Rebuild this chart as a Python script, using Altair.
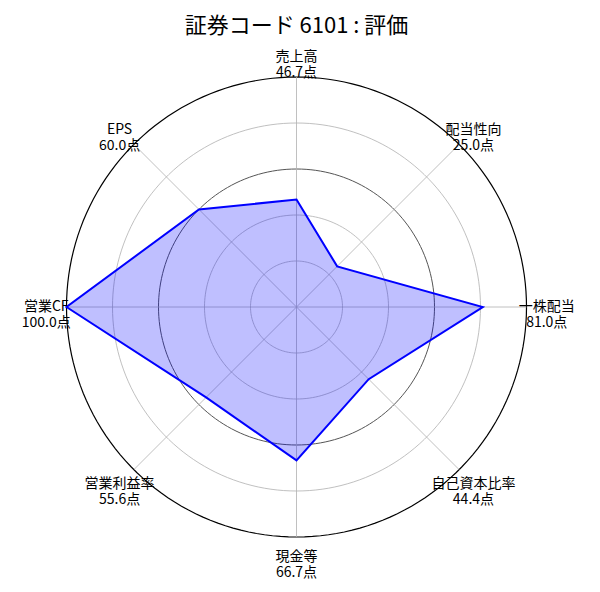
import altair as alt
import pandas as pd

labels = ["売上高", "配当性向", "一株配当", "自己資本比率", "現金等", "営業利益率", "営業CF", "EPS"]
scores = [46.7, 25.0, 81.0, 44.4, 66.7, 55.6, 100.0, 60.0]
grid_levels = [20, 40, 60, 80, 100]
grid_colors = ["#b0b0b0", "#b0b0b0", "#555555", "#b0b0b0", "#000000"]
grid_widths = [0.8, 0.8, 1.0, 0.8, 1.2]
title_text = "証券コード 6101 : 評価"

FONT = "Noto Sans CJK JP"
N = len(labels)

df = pd.DataFrame({
    "idx": list(range(N)),
    "label": labels,
    "score": scores,
    "txt": [f"{l}\n{s:.1f}点" for l, s in zip(labels, scores)],
})

xs = alt.Scale(domain=[-100, 100], nice=False, zero=False)
ys = alt.Scale(domain=[-100, 100], nice=False, zero=False)

base = alt.Chart(df).transform_calculate(
    ang=f"datum.idx * 2 * PI / {N}"
).transform_calculate(
    px="datum.score * sin(datum.ang)",
    py="datum.score * cos(datum.ang)",
    zx="0",
    ex="100 * sin(datum.ang)",
    ey="100 * cos(datum.ang)",
    lx="108.8 * sin(datum.ang)",
    ly="108.8 * cos(datum.ang)",
)

circles = []
for lvl, col, w in zip(grid_levels, grid_colors, grid_widths):
    c = alt.Chart(alt.sequence(0, 361, 2, as_="deg")).transform_calculate(
        cx=f"{lvl} * sin(datum.deg * PI / 180)",
        cy=f"{lvl} * cos(datum.deg * PI / 180)",
    ).mark_line(color=col, strokeWidth=w).encode(
        x=alt.X("cx:Q", scale=xs, axis=None),
        y=alt.Y("cy:Q", scale=ys, axis=None),
        order="deg:Q",
    )
    circles.append(c)

spokes = base.mark_rule(color="#b0b0b0", strokeWidth=0.8).encode(
    x=alt.X("zx:Q", scale=xs, axis=None),
    y=alt.Y("zx:Q", scale=ys, axis=None),
    x2="ex:Q",
    y2="ey:Q",
)

poly = base.mark_line(
    interpolate="linear-closed",
    fill="#0000ff",
    fillOpacity=0.25,
    stroke="#0000ff",
    strokeWidth=2,
).encode(
    x=alt.X("px:Q", scale=xs, axis=None),
    y=alt.Y("py:Q", scale=ys, axis=None),
    order="idx:Q",
)

text = base.mark_text(
    font=FONT, fontSize=14, lineBreak="\n", lineHeight=16,
    align="center", baseline="middle", color="black",
).encode(
    x=alt.X("lx:Q", scale=xs, axis=None),
    y=alt.Y("ly:Q", scale=ys, axis=None),
    text="txt:N",
)

title = alt.Chart(pd.DataFrame({"t": [title_text]})).mark_text(
    font=FONT, fontSize=22, align="center", baseline="middle", color="black",
).encode(
    x=alt.value(230),
    y=alt.value(-51),
    text="t:N",
)

chart = alt.layer(*circles, spokes, poly, text, title).properties(
    width=460,
    height=460,
    autosize="none",
    padding={"left": 58.5, "top": 69, "right": 65.5, "bottom": 47},
    background="white",
).configure_view(stroke=None)

chart.save("out.html", embed_options={"renderer": "svg", "actions": False})
